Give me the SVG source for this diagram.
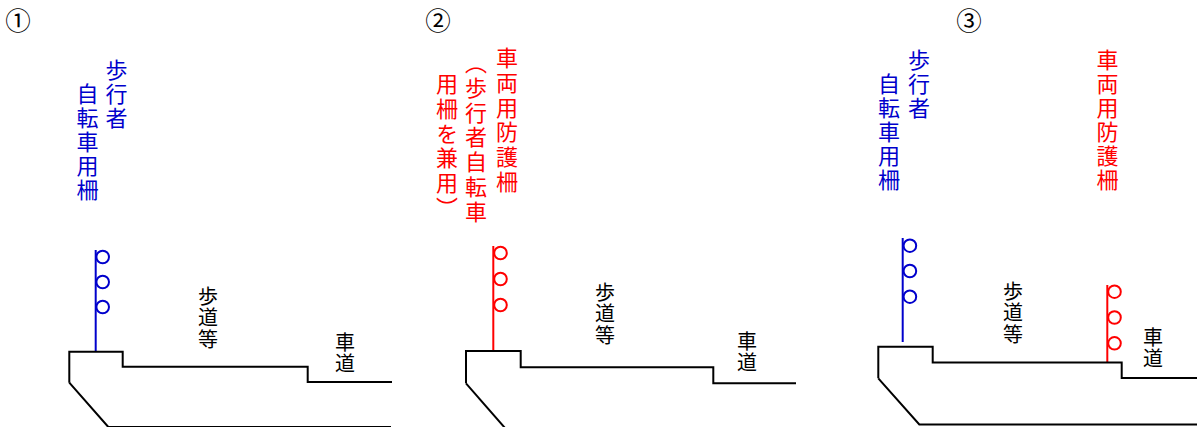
<svg xmlns="http://www.w3.org/2000/svg" width="1197" height="427" viewBox="0 0 1197 427">
<style>
.bg{fill:#fff}
.num{font-family:"Noto Sans CJK JP","DejaVu Sans",sans-serif;font-size:25.5px;fill:#000;text-anchor:middle}
.vt{font-family:"Noto Sans CJK JP","Noto Sans CJK SC",sans-serif;font-size:22px;writing-mode:vertical-rl;letter-spacing:2px}
.vb{fill:#0000cc}
.vr{fill:#ff0000}
.lbl{font-family:"Noto Sans CJK JP","Noto Sans CJK SC",sans-serif;font-size:20px;fill:#000;writing-mode:vertical-rl;letter-spacing:1.5px}
.road{fill:none;stroke:#000;stroke-width:2;stroke-linejoin:miter}
.fb{fill:none;stroke:#0000cc;stroke-width:2}
.fr{fill:none;stroke:#ff0000;stroke-width:2}
</style>
<rect class="bg" x="0" y="0" width="1197" height="427"/>

<g id="panel1">
  <text class="num" x="18" y="29.8">①</text>
  <g id="p1-label">
    <text class="vt vb" x="116.5" y="59">歩行者</text>
    <text class="vt vb" x="87.5" y="83">自転車用柵</text>
  </g>
  <g id="p1-fence">
    <line class="fb" x1="95.7" y1="250" x2="95.7" y2="352"/>
    <circle class="fb" cx="102.7" cy="257" r="6.3"/>
    <circle class="fb" cx="102.7" cy="282" r="6.3"/>
    <circle class="fb" cx="102.7" cy="307" r="6.3"/>
  </g>
  <g id="p1-road">
    <path class="road" d="M69.3,382.7 V351.7 H122.7 V366.7 H307.7 V382 H392"/>
    <path class="road" d="M69.3,382.7 L108.3,427 H391"/>
    <text class="lbl" x="208" y="286">歩道等</text>
    <text class="lbl" x="345" y="332">車道</text>
  </g>
</g>

<g id="panel2">
  <text class="num" x="438" y="29.8">②</text>
  <g id="p2-label">
    <text class="vt vr" x="507" y="47" style="letter-spacing:2.7px">車両用防護柵</text>
    <text class="vt vr" x="476" y="52" style="letter-spacing:2.7px">（歩行者自転車</text>
    <text class="vt vr" x="447" y="73" style="letter-spacing:2.7px">用柵を兼用）</text>
  </g>
  <g id="p2-fence">
    <line class="fr" x1="493.3" y1="246" x2="493.3" y2="351.7"/>
    <circle class="fr" cx="500.5" cy="253" r="6.3"/>
    <circle class="fr" cx="500.5" cy="279" r="6.3"/>
    <circle class="fr" cx="500.5" cy="305" r="6.3"/>
  </g>
  <g id="p2-road">
    <path class="road" d="M466,383.3 V351 H520.7 V367.3 H713.3 V383.3 H796"/>
    <path class="road" d="M466,383.3 L505,428"/>
    <text class="lbl" x="605" y="282">歩道等</text>
    <text class="lbl" x="747" y="331">車道</text>
  </g>
</g>

<g id="panel3">
  <text class="num" x="969" y="29.6">③</text>
  <g id="p3-label-blue">
    <text class="vt vb" x="919" y="49">歩行者</text>
    <text class="vt vb" x="889" y="73">自転車用柵</text>
  </g>
  <g id="p3-label-red">
    <text class="vt vr" x="1107.5" y="49">車両用防護柵</text>
  </g>
  <g id="p3-fence-blue">
    <line class="fb" x1="902.7" y1="238" x2="902.7" y2="342"/>
    <circle class="fb" cx="909.9" cy="245.7" r="6.3"/>
    <circle class="fb" cx="909.9" cy="271" r="6.3"/>
    <circle class="fb" cx="909.9" cy="296.7" r="6.3"/>
  </g>
  <g id="p3-fence-red">
    <line class="fr" x1="1107.3" y1="285" x2="1107.3" y2="362"/>
    <circle class="fr" cx="1114.5" cy="291.7" r="6.3"/>
    <circle class="fr" cx="1114.5" cy="317.5" r="6.3"/>
    <circle class="fr" cx="1114.5" cy="343.3" r="6.3"/>
  </g>
  <g id="p3-road">
    <path class="road" d="M878.3,378.3 V346.7 H932.7 V362.5 H1121.7 V377.9 H1198"/>
    <path class="road" d="M878.3,378.3 L919.3,424.5 H1198"/>
    <text class="lbl" x="1013" y="281">歩道等</text>
    <text class="lbl" x="1153" y="327">車道</text>
  </g>
</g>
</svg>
